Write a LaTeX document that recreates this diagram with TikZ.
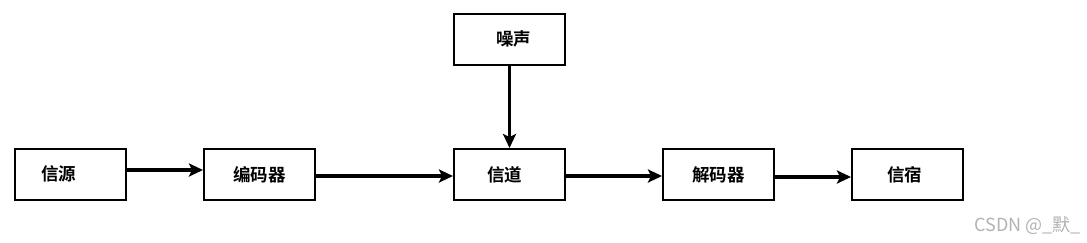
\documentclass[tikz,border=0pt]{standalone}
\usepackage{fontspec}
\setmainfont{Noto Sans CJK SC}
\newfontfamily\cjkbold{Noto Sans CJK SC Bold}
\usetikzlibrary{arrows.meta}
\begin{document}
\begin{tikzpicture}[x=1pt,y=-1pt,
  box/.style={draw=black,line width=2pt,minimum width=111pt,minimum height=51pt,inner sep=0pt,
    font=\cjkbold\fontsize{17.5}{20}\selectfont},
  conn/.style={line width=3.5pt,-{Stealth[length=14pt,width=13pt,inset=3pt]}},
  wm/.style={font=\fontsize{18}{20}\selectfont,text=black!30,inner sep=0pt,anchor=east}]
\useasboundingbox (0,0) rectangle (1087,242);
\node[box] (src) at (70.5,174.5) {\raisebox{2pt}{\hspace*{-24pt}信源}};
\node[box] (enc) at (259.5,174.5) {\raisebox{2pt}{编码器}};
\node[box] (ch) at (509.5,174.5) {\raisebox{-3pt}{\hspace*{-10pt}信道}};
\node[box] (dec) at (718.5,174.5) {\raisebox{1pt}{解码器}};
\node[box] (dst) at (907.5,174.5) {\raisebox{1pt}{\hspace*{-6pt}信宿}};
\node[box] (noise) at (509.5,39) {\raisebox{2pt}{\hspace*{8pt}噪声}};
\draw[conn] ([yshift=4.5pt]src.east) -- ([yshift=4.5pt]enc.west);
\draw[conn] ([yshift=-1.5pt]enc.east) -- ([yshift=-1.5pt]ch.west);
\draw[conn] (noise.south) -- (ch.north);
\fill ([yshift=-1.5pt]ch.east) circle (2.2pt);
\draw[conn] ([yshift=-1.5pt]ch.east) -- ([yshift=-1.5pt]dec.west);
\draw[conn] ([yshift=-2.5pt]dec.east) -- ([yshift=-2.5pt]dst.west);
\node[wm] (mark) at (1081,225) {CSDN @\_默\_};
\end{tikzpicture}
\end{document}
